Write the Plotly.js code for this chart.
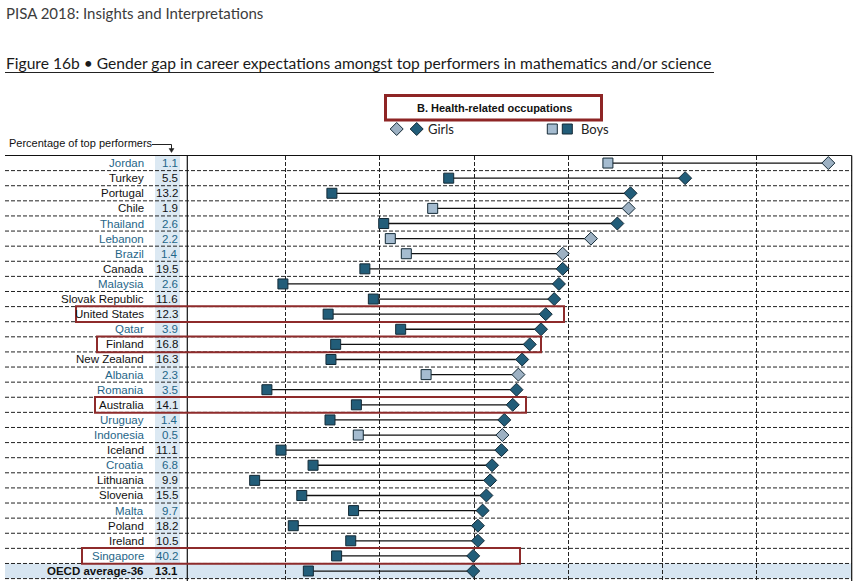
<!DOCTYPE html>
<html><head><meta charset="utf-8">
<script src="https://cdn.plot.ly/plotly-3.0.1.min.js"></script>
<style>html,body{margin:0;padding:0;background:#fff;} #chart{width:857px;height:581px;}</style>
</head><body><div id="chart"></div>
<script>
// ---- data ----
const countries = ["Jordan","Turkey","Portugal","Chile","Thailand","Lebanon","Brazil","Canada","Malaysia","Slovak Republic","United States","Qatar","Finland","New Zealand","Albania","Romania","Australia","Uruguay","Indonesia","Iceland","Croatia","Lithuania","Slovenia","Malta","Poland","Ireland","Singapore","OECD average-36"];
const topPerformerPct = [1.1,5.5,13.2,1.9,2.6,2.2,1.4,19.5,2.6,11.6,12.3,3.9,16.8,16.3,2.3,3.5,14.1,1.4,0.5,11.1,6.8,9.9,15.5,9.7,18.2,10.5,40.2,13.1];
const boysHealth = [44.2,27.3,14.9,25.6,20.4,21.1,22.8,18.4,9.7,19.3,14.5,22.2,15.3,14.8,24.9,8.0,17.5,14.7,17.7,9.5,12.9,6.7,11.7,17.2,10.8,16.9,15.4,12.4];
const girlsHealth = [67.6,52.4,46.6,46.4,45.2,42.4,39.4,39.4,39.0,38.5,37.6,37.1,35.9,35.1,34.7,34.5,34.1,33.2,33.0,32.9,31.9,31.7,31.3,30.9,30.4,30.4,29.9,29.9];
const significantGap = [false,true,true,false,true,false,false,true,true,true,true,true,true,true,false,true,true,true,false,true,true,true,true,true,true,true,true,true];
const partnerEconomy = [true,false,false,false,true,true,true,false,true,false,false,true,false,false,true,true,false,true,true,false,true,false,false,true,false,false,true,false];
const highlightedCountries = ["United States","Finland","Australia","Singapore"];
const gridValues = [10,20,30,40,50,60];

// ---- style ----
const W = 857, H = 581;
const px = v => v / W;
const py = v => 1 - v / H;
const DARK = "#225d79", LIGHT_SQ = "#a5bcd0", LIGHT_DI = "#9db1c3", EDGE = "#142a36";
const TEAL_TXT = "#1f6688";
const BODY = "'Liberation Sans', Arial, sans-serif";
const HEAD = "Lato, 'Liberation Sans', sans-serif";
const boxSpans = {"United States":[76,564],"Finland":[97,541],"Australia":[95,526],"Singapore":[82,520]};

// ---- traces ----
const lx = [], ly = [];
countries.forEach((c, i) => { lx.push(boysHealth[i], girlsHealth[i], null); ly.push(c, c, null); });
const traces = [
  {type:"scatter", mode:"lines", x:lx, y:ly, line:{color:"#111", width:1.3}, hoverinfo:"skip", showlegend:false},
  {type:"scatter", mode:"markers", x:boysHealth, y:countries, name:"Boys", showlegend:false,
   marker:{symbol:"square", size:10, color:significantGap.map(s => s ? DARK : LIGHT_SQ), line:{color:EDGE, width:1}}},
  {type:"scatter", mode:"markers", x:girlsHealth, y:countries, name:"Girls", showlegend:false,
   marker:{symbol:"diamond", size:10, color:significantGap.map(s => s ? DARK : LIGHT_DI), line:{color:EDGE, width:1}}},
  // custom legend keys (overlay pixel axis)
  {type:"scatter", mode:"markers", xaxis:"x2", yaxis:"y2", x:[396.7,416.7], y:[129,129], showlegend:false, hoverinfo:"skip",
   marker:{symbol:"diamond", size:10, color:[LIGHT_DI, DARK], line:{color:EDGE, width:1}}},
  {type:"scatter", mode:"markers", xaxis:"x2", yaxis:"y2", x:[552.3,567.3], y:[129,129], showlegend:false, hoverinfo:"skip",
   marker:{symbol:"square", size:10, color:[LIGHT_SQ, DARK], line:{color:EDGE, width:1}}}
];

// ---- shapes ----
const shapes = [];
const n = countries.length;
shapes.push({type:"rect", layer:"below", xref:"paper", yref:"y", x0:px(155), x1:px(180), y0:-0.5, y1:n - 0.5, fillcolor:"#dce9f3", line:{width:0}});
shapes.push({type:"rect", layer:"below", xref:"paper", yref:"y", x0:px(5), x1:px(851.7), y0:n - 1.5, y1:n - 0.5, fillcolor:"#d7e5f1", line:{width:0}});
for (let i = 0; i < n; i++) {
  shapes.push({type:"line", layer:"below", xref:"paper", yref:"y", x0:px(5), x1:px(851.7), y0:i + 0.5, y1:i + 0.5, line:{color:"#222", width:1, dash:"4px,2px"}});
}
shapes.push({type:"line", xref:"paper", yref:"paper", x0:px(5), x1:px(851.7), y0:py(155.5), y1:py(155.5), line:{color:"#111", width:1.2}});
shapes.push({type:"line", xref:"paper", yref:"paper", x0:px(187.3), x1:px(187.3), y0:0, y1:py(155.5), line:{color:"#111", width:1.2}});
shapes.push({type:"line", xref:"paper", yref:"paper", x0:px(851.7), x1:px(851.7), y0:0, y1:py(155.5), line:{color:"#111", width:1.2}});
highlightedCountries.forEach(c => {
  const i = countries.indexOf(c);
  const s = boxSpans[c];
  shapes.push({type:"rect", xref:"paper", yref:"y", x0:px(s[0]), x1:px(s[1]), y0:i - 0.52, y1:i + 0.52, line:{color:"#8e2b2b", width:2}, fillcolor:"rgba(0,0,0,0)"});
});
shapes.push({type:"line", xref:"paper", yref:"paper", x0:px(5), x1:px(714), y0:py(72.5), y1:py(72.5), line:{color:"#222", width:1.2}});
shapes.push({type:"rect", xref:"paper", yref:"paper", x0:px(385.5), x1:px(601.5), y0:py(120), y1:py(95.5), line:{color:"#8e2525", width:3}, fillcolor:"#fff"});
// "percentage" arrow: elbow line + head
shapes.push({type:"path", xref:"paper", yref:"paper", path:`M ${px(152)},${py(144.5)} L ${px(171.5)},${py(144.5)} L ${px(171.5)},${py(149)}`, line:{color:"#222", width:1}});
shapes.push({type:"path", xref:"paper", yref:"paper", path:`M ${px(169)},${py(148.5)} L ${px(174)},${py(148.5)} L ${px(171.5)},${py(152.5)} Z`, line:{color:"#222", width:0.5}, fillcolor:"#222"});

// ---- annotations ----
const ann = [];
countries.forEach((c, i) => {
  const isAvg = i === n - 1;
  const col = partnerEconomy[i] ? TEAL_TXT : "#111";
  ann.push({xref:"paper", yref:"y", x:px(146), y:c, xanchor:"right", yanchor:"middle", showarrow:false,
    text: isAvg ? `<b>${c}</b>` : c, font:{family:BODY, size:11.5, color:col}});
  ann.push({xref:"paper", yref:"y", x:px(180), y:c, xanchor:"right", yanchor:"middle", showarrow:false,
    text: isAvg ? `<b>${topPerformerPct[i].toFixed(1)}</b>` : topPerformerPct[i].toFixed(1), font:{family:BODY, size:11.5, color:col}});
});
ann.push({xref:"paper", yref:"paper", x:px(4), y:py(13), xanchor:"left", yanchor:"middle", showarrow:false,
  text:"PISA 2018: Insights and Interpretations", font:{family:HEAD, size:15, color:"#3c3c3c"}});
ann.push({xref:"paper", yref:"paper", x:px(4), y:py(63), xanchor:"left", yanchor:"middle", showarrow:false,
  text:"Figure 16b • Gender gap in career expectations amongst top performers in mathematics and/or science", font:{family:HEAD, size:15.6, color:"#1a1a1a"}});
ann.push({xref:"paper", yref:"paper", x:px(494), y:py(108), xanchor:"center", yanchor:"middle", showarrow:false,
  text:"<b>B. Health-related occupations</b>", font:{family:BODY, size:11, color:"#111"}});
ann.push({xref:"paper", yref:"paper", x:px(426), y:py(129), xanchor:"left", yanchor:"middle", showarrow:false,
  text:"Girls", font:{family:HEAD, size:13, color:"#222"}});
ann.push({xref:"paper", yref:"paper", x:px(578.5), y:py(129), xanchor:"left", yanchor:"middle", showarrow:false,
  text:"Boys", font:{family:HEAD, size:13, color:"#222"}});
ann.push({xref:"paper", yref:"paper", x:px(7), y:py(143.5), xanchor:"left", yanchor:"middle", showarrow:false,
  text:"Percentage of top performers", font:{family:BODY, size:11, color:"#111"}});

const layout = {
  width:W, height:H, autosize:false,
  margin:{l:0, r:0, t:0, b:0, pad:0},
  paper_bgcolor:"#fff", plot_bgcolor:"rgba(0,0,0,0)",
  font:{family:BODY, size:12, color:"#111"},
  showlegend:false,
  xaxis:{domain:[px(187.3), px(851.7)], range:[-0.45, 70.08], tickvals:gridValues, showticklabels:false, ticks:"",
         showgrid:true, gridcolor:"#222", gridwidth:1, griddash:"4px,2px", zeroline:false, showline:false, fixedrange:true},
  yaxis:{domain:[0, py(155.5)], type:"category", categoryorder:"array", categoryarray:countries,
         range:[27.66, -0.5], showticklabels:false, ticks:"", showgrid:false, zeroline:false, showline:false, fixedrange:true},
  xaxis2:{domain:[0,1], anchor:"y2", range:[0,W], visible:false, fixedrange:true},
  yaxis2:{domain:[0,1], anchor:"x2", range:[H,0], visible:false, fixedrange:true},
  shapes:shapes, annotations:ann
};
Plotly.newPlot("chart", traces, layout, {displayModeBar:false, staticPlot:true});
</script>
</body></html>
